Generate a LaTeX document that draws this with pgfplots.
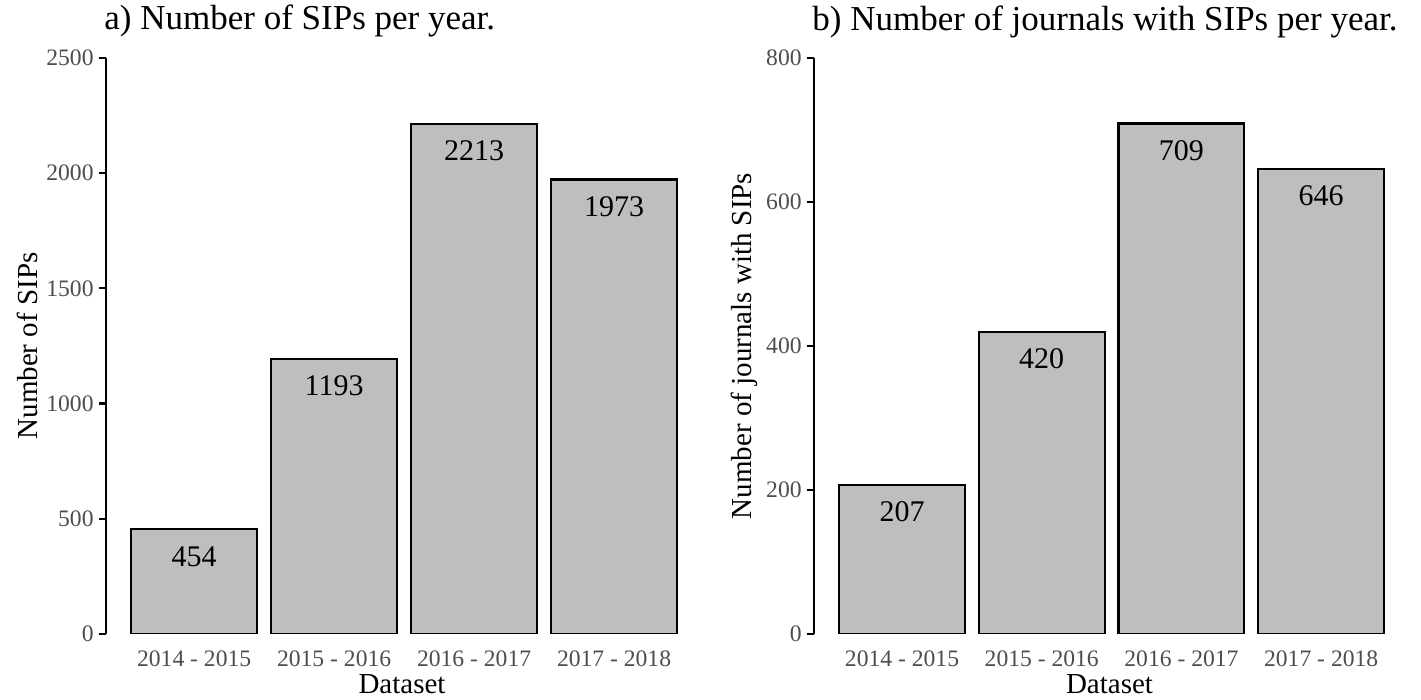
\documentclass[border=0pt]{standalone}
\usepackage{fontspec}
\setmainfont{Liberation Serif}
\usepackage{pgfplots}
\pgfplotsset{compat=1.18}
\definecolor{barfill}{HTML}{BEBEBE}
\definecolor{tickgray}{HTML}{4D4D4D}
\pgfplotsset{
  sipstyle/.style={
    scale only axis,
    height=288pt,
    ymin=0,
    enlargelimits=false,
    xmin=-0.63, xmax=3.6,
    xtick=data,
    xticklabels={2014 - 2015, 2015 - 2016, 2016 - 2017, 2017 - 2018},
    axis y line*=left,
    axis x line*=bottom,
    x axis line style={draw=none},
    xtick style={draw=none},
    y axis line style={line width=1.1pt, black},
    ytick style={line width=1.1pt, black},
    tick align=outside,
    major tick length=3.5pt,
    /pgf/number format/assume math mode=true,
    /pgf/number format/1000 sep={},
    tick label style={text=tickgray, font=\fontsize{11.8}{13}\selectfont},
    xticklabel style={anchor=base, yshift=-13pt},
    yticklabel style={anchor=east, inner sep=0pt, xshift=-2.5pt},
    title style={at={(axis description cs:0,1)}, anchor=base west, inner sep=0pt, xshift=-1pt, yshift=8pt, font=\fontsize{17.5}{20}\selectfont},
    xlabel style={at={(axis description cs:0.5,0)}, anchor=base, yshift=-30pt, font=\fontsize{14.5}{16}\selectfont},
    ybar,
    bar width=0.9,
    bar shift=0pt,
    nodes near coords,
    nodes near coords style={anchor=center, yshift=-13.5pt, text=black, font=\fontsize{15}{17}\selectfont},
    xlabel={Dataset},
  }
}
\begin{document}
\begin{tikzpicture}
\useasboundingbox (0,0) rectangle (710.5pt,350pt);
\begin{axis}[sipstyle,
  at={(53pt,33pt)}, anchor=south west,
  width=296pt,
  ymax=2500,
  ytick={0,500,1000,1500,2000,2500},
  title={a) Number of SIPs per year.},
  ylabel={Number of SIPs},
  every axis y label/.style={at={(axis description cs:-0.132,0.5)}, rotate=90, anchor=center, font=\fontsize{14.5}{16}\selectfont},
]
\addplot[fill=barfill, draw=black, line width=1.1pt] coordinates {(0,454) (1,1193) (2,2213) (3,1973)};
\end{axis}
\begin{axis}[sipstyle,
  at={(407pt,33pt)}, anchor=south west,
  width=295.5pt,
  ymax=800,
  ytick={0,200,400,600,800},
  title={b) Number of journals with SIPs per year.},
  ylabel={Number of journals with SIPs},
  every axis y label/.style={at={(axis description cs:-0.117,0.5)}, rotate=90, anchor=center, font=\fontsize{14.5}{16}\selectfont},
]
\addplot[fill=barfill, draw=black, line width=1.1pt] coordinates {(0,207) (1,420) (2,709) (3,646)};
\end{axis}
\end{tikzpicture}
\end{document}
